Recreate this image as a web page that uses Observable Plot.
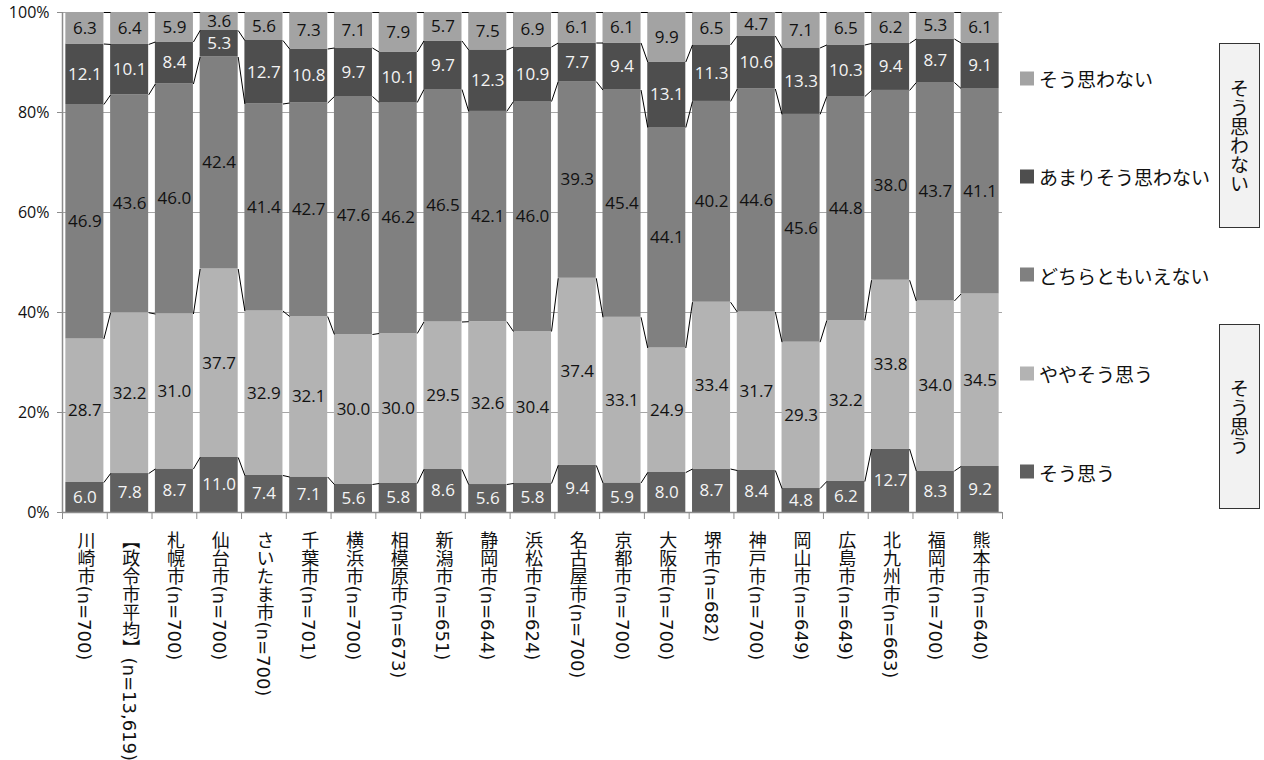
<!DOCTYPE html>
<html>
<head>
<meta charset="utf-8">
<script src="https://cdn.jsdelivr.net/npm/d3@7"></script>
<script src="https://cdn.jsdelivr.net/npm/@observablehq/plot@0.6"></script>
<style>
  body { margin: 0; background: #fff; }
  #wrap { position: relative; width: 1264px; height: 760px; overflow: hidden; }
  #chart { position: absolute; left: 0; top: 0; }
  g[aria-description="city"] text { writing-mode: vertical-rl; text-orientation: mixed; }
  [aria-label="x-axis tick"], [aria-label="y-axis tick"] { stroke: #8c8c8c; }
  .lg { position: absolute; display: flex; align-items: center; font-family: "Noto Sans CJK JP", sans-serif; font-size: 19px; color: #111; white-space: nowrap; transform: translateY(-50%); }
  .lg i { display: inline-block; width: 14px; height: 14px; margin-right: 5px; }
  .box { position: absolute; box-sizing: border-box; width: 41px; border: 1.5px solid #333; background: #f2f2f2;
         writing-mode: vertical-rl; display: flex; align-items: center; justify-content: center;
         font-family: "Noto Sans CJK JP", sans-serif; font-size: 19px; color: #111; line-height: 1; }
</style>
</head>
<body>
<div id="wrap">
  <div id="chart"></div>
  <div id="legend"></div>
</div>
<script>
// ---- data ----
const cities = ["川崎市(n=700)", "【政令市平均】(n=13,619)", "札幌市(n=700)", "仙台市(n=700)", "さいたま市(n=700)",
  "千葉市(n=701)", "横浜市(n=700)", "相模原市(n=673)", "新潟市(n=651)", "静岡市(n=644)", "浜松市(n=624)",
  "名古屋市(n=700)", "京都市(n=700)", "大阪市(n=700)", "堺市(n=682)", "神戸市(n=700)", "岡山市(n=649)",
  "広島市(n=649)", "北九州市(n=663)", "福岡市(n=700)", "熊本市(n=640)"];
const series = ["そう思う", "ややそう思う", "どちらともいえない", "あまりそう思わない", "そう思わない"];
const soOmou   = [6.0, 7.8, 8.7, 11.0, 7.4, 7.1, 5.6, 5.8, 8.6, 5.6, 5.8, 9.4, 5.9, 8.0, 8.7, 8.4, 4.8, 6.2, 12.7, 8.3, 9.2];
const yaya     = [28.7, 32.2, 31.0, 37.7, 32.9, 32.1, 30.0, 30.0, 29.5, 32.6, 30.4, 37.4, 33.1, 24.9, 33.4, 31.7, 29.3, 32.2, 33.8, 34.0, 34.5];
const dochira  = [46.9, 43.6, 46.0, 42.4, 41.4, 42.7, 47.6, 46.2, 46.5, 42.1, 46.0, 39.3, 45.4, 44.1, 40.2, 44.6, 45.6, 44.8, 38.0, 43.7, 41.1];
const amari    = [12.1, 10.1, 8.4, 5.3, 12.7, 10.8, 9.7, 10.1, 9.7, 12.3, 10.9, 7.7, 9.4, 13.1, 11.3, 10.6, 13.3, 10.3, 9.4, 8.7, 9.1];
const omowanai = [6.3, 6.4, 5.9, 3.6, 5.6, 7.3, 7.1, 7.9, 5.7, 7.5, 6.9, 6.1, 6.1, 9.9, 6.5, 4.7, 7.1, 6.5, 6.2, 5.3, 6.1];
const yTicks = [0, 20, 40, 60, 80, 100];
const boxLabels = ["そう思わない", "そう思う"];

// ---- styles ----
const colors = ["#606060", "#b3b3b3", "#808080", "#4e4e4e", "#a3a3a3"];
const whiteText = new Set(["そう思う", "あまりそう思わない"]);
const BAR = 0.85;

// ---- derived tables ----
const cols = [soOmou, yaya, dochira, amari, omowanai];
const rows = [];
cities.forEach((city, i) => {
  const total = d3.sum(cols, c => c[i]);
  let acc = 0;
  cols.forEach((c, k) => {
    const y1 = acc / total * 100;
    acc += c[i];
    const y2 = acc / total * 100;
    rows.push({i, city, k, series: series[k], v: c[i], y1, y2});
  });
});
const links = [];
for (let i = 0; i < cities.length - 1; i++) {
  for (let k = 0; k < series.length; k++) {
    links.push({i, k, y1: rows[i * series.length + k].y2, y2: rows[(i + 1) * series.length + k].y2});
  }
}
const idx = cities.map((c, i) => i);

const chart = Plot.plot({
  width: 1012,
  height: 760,
  marginLeft: 62,
  marginRight: 10,
  marginTop: 12,
  marginBottom: 248,
  style: {fontFamily: "'Open Sans', 'Noto Sans CJK JP', sans-serif", fontSize: "16px", color: "#111", background: "transparent"},
  x: {type: "linear", domain: [-0.5, cities.length - 0.5], ticks: d3.range(cities.length + 1).map(k => k - 0.5),
      tickFormat: () => "", tickSize: 7, label: null},
  y: {domain: [0, 100], ticks: yTicks, tickFormat: d => d + "%", tickSize: 5, tickPadding: 8, label: null},
  color: {domain: series, range: colors},
  marks: [
    Plot.ruleY(yTicks.filter(d => d > 0), {stroke: "#a6a6a6", strokeWidth: 1}),
    Plot.rect(rows, {x1: d => d.i - BAR / 2, x2: d => d.i + BAR / 2, y1: "y1", y2: "y2", fill: "series"}),
    Plot.link(links, {x1: d => d.i + BAR / 2, x2: d => d.i + 1 - BAR / 2, y1: "y1", y2: "y2", stroke: "#000", strokeWidth: 1}),
    Plot.text(rows, {x: "i", y: d => (d.y1 + d.y2) / 2, text: d => d.v.toFixed(1),
      fill: d => whiteText.has(d.series) ? "#f4f4f4" : "#111", fontSize: 17}),
    Plot.ruleX([-0.5], {stroke: "#8c8c8c", strokeWidth: 1.5}),
    Plot.ruleY([0], {stroke: "#8c8c8c", strokeWidth: 1.5}),
    Plot.text(idx, {x: d => d, y: 0, text: d => cities[d], dy: 19, textAnchor: "start", lineAnchor: "bottom",
      ariaDescription: "city", fontSize: 18, fontFamily: "'DejaVu Sans', 'Noto Sans CJK JP', sans-serif", fill: "#111"})
  ]
});
document.getElementById("chart").appendChild(chart);

// ---- legend (right side, reversed order like the original) ----
const legend = document.getElementById("legend");
const order = series.map((s, k) => k).reverse();
order.forEach((k, j) => {
  const el = document.createElement("div");
  el.className = "lg";
  el.style.left = "1020px";
  el.style.top = (78 + j * 98.4) + "px";
  el.innerHTML = `<i style="background:${colors[k]}"></i><span>${series[k]}</span>`;
  legend.appendChild(el);
});
const boxTops = [43, 324];
boxLabels.forEach((t, j) => {
  const b = document.createElement("div");
  b.className = "box";
  b.style.left = "1219px";
  b.style.top = boxTops[j] + "px";
  b.style.height = "185px";
  b.textContent = t;
  legend.appendChild(b);
});
</script>
</body>
</html>
